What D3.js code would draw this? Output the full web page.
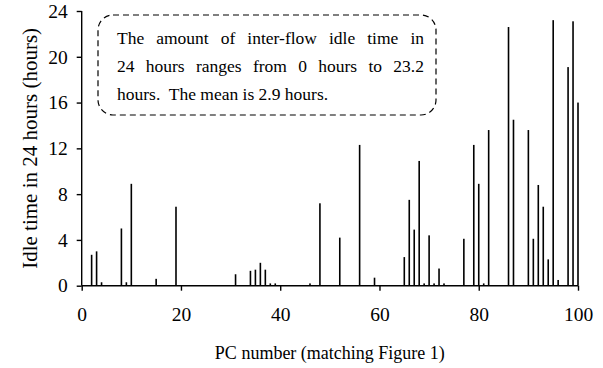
<!DOCTYPE html>
<html>
<head>
<meta charset="utf-8">
<script src="https://cdn.jsdelivr.net/npm/d3@7"></script>
<style>
  html, body { margin: 0; padding: 0; background: #fff; }
  svg { display: block; }
  text { font-family: "Liberation Serif", "Times New Roman", serif; fill: #000; }
</style>
</head>
<body>
<svg id="chart" width="603" height="368"></svg>
<script>
// PC numbers with non-zero idle time (all other PCs have 0 hours)
const pcNumbers = [2, 3, 4, 8, 9, 10, 15, 19, 31, 34, 35, 36, 37, 38, 39, 46, 48, 52, 56, 59,
  65, 66, 67, 68, 69, 70, 71, 72, 73, 77, 79, 80, 81, 82, 86, 87, 90, 91, 92, 93, 94, 95, 96, 98, 99, 100];
const idleHours = [2.7, 3.0, 0.3, 5.0, 0.3, 8.9, 0.6, 6.9, 1.0, 1.3, 1.4, 2.0, 1.4, 0.2, 0.2, 0.2, 7.2, 4.2, 12.3, 0.7,
  2.5, 7.5, 4.9, 10.9, 0.2, 4.4, 0.2, 1.5, 0.2, 4.1, 12.3, 8.9, 0.2, 13.6, 22.6, 14.5, 13.6, 4.1, 8.8, 6.9, 2.3, 23.2, 0.5, 19.1, 23.1, 16.0];
const xTicks = [0, 20, 40, 60, 80, 100];
const yTicks = [0, 4, 8, 12, 16, 20, 24];
const xTitle = "PC number (matching Figure 1)";
const yTitle = "Idle time in 24 hours (hours)";
const noteLines = [
  "The amount of inter-flow idle time in",
  "24 hours ranges from 0 hours to 23.2",
  "hours.  The mean is 2.9 hours."
];

const data = pcNumbers.map((pc, i) => ({ pc, v: idleHours[i] }));

const svg = d3.select("#chart");
const x = d3.scaleLinear().domain([0, 100]).range([81.7, 578]);
const y = d3.scaleLinear().domain([0, 24]).range([285.7, 11]);

// bars
svg.append("g").selectAll("rect").data(data).join("rect")
  .attr("x", d => x(d.pc) - 0.8)
  .attr("width", 1.6)
  .attr("y", d => y(d.v))
  .attr("height", d => y(0) - y(d.v))
  .attr("fill", "#000");

// x axis
const xAxis = svg.append("g").attr("transform", `translate(0,${y(0)})`)
  .call(d3.axisBottom(x).tickValues(xTicks).tickSize(5).tickPadding(16).tickFormat(d3.format("d")));
// y axis
const yAxis = svg.append("g").attr("transform", `translate(${x(0)},0)`)
  .call(d3.axisLeft(y).tickValues(yTicks).tickSize(5).tickPadding(9).tickFormat(d3.format("d")));

[xAxis, yAxis].forEach(g => {
  g.attr("font-family", null);
  g.select(".domain").attr("stroke", "#000").attr("stroke-width", 1.4);
  g.selectAll(".tick line").attr("stroke", "#000").attr("stroke-width", 1.4);
  g.selectAll(".tick text").attr("font-size", 19.5)
    .style("font-family", "'Liberation Serif', serif").attr("fill", "#000");
});
yAxis.select(".domain").attr("d", `M0,${y(24)}V${y(0)}`);
xAxis.select(".domain").attr("d", `M${x(0)},0H${x(100)}`);

// axis titles
svg.append("text")
  .attr("x", (x(0) + x(100)) / 2)
  .attr("y", 359)
  .attr("text-anchor", "middle")
  .attr("font-size", 18)
  .text(xTitle);

svg.append("text")
  .attr("transform", `translate(37,${(y(0) + y(24)) / 2}) rotate(-90)`)
  .attr("text-anchor", "middle")
  .attr("font-size", 21)
  .text(yTitle);

// annotation box
svg.append("rect")
  .attr("x", 98).attr("y", 15)
  .attr("width", 338).attr("height", 100)
  .attr("rx", 15).attr("ry", 15)
  .attr("fill", "#fff")
  .attr("stroke", "#000")
  .attr("stroke-width", 1.2)
  .attr("stroke-dasharray", "6,4");

const baselines = [44, 72, 100];
noteLines.forEach((t, i) => {
  const tx = svg.append("text")
    .attr("x", 117)
    .attr("y", baselines[i])
    .attr("font-size", 17.5)
    .style("white-space", "pre")
    .text(t);
  if (i < 2) {
    const w = tx.node().getComputedTextLength();
    const spaces = (t.match(/ /g) || []).length;
    const extra = (307 - w) / spaces;
    tx.style("word-spacing", `${extra}px`);
  }
});
</script>
</body>
</html>
